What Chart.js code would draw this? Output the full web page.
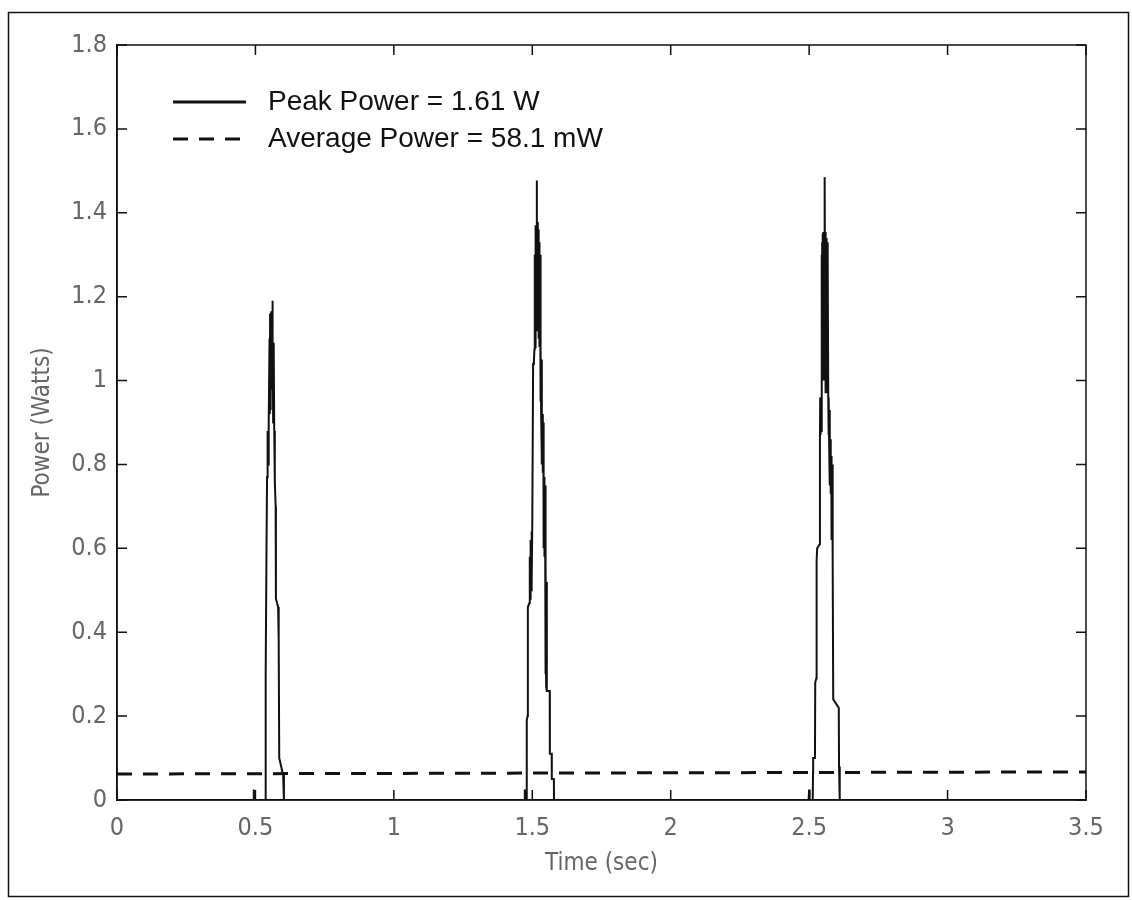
<!DOCTYPE html>
<html lang="en">
<head>
    <meta charset="UTF-8">
    <title>Peak and Average Power</title>
    <script src="https://cdn.jsdelivr.net/npm/chart.js"></script>
    <style>
        body { margin: 0; background: #fff; }
        canvas { display: block; }
    </style>
</head>
<body>
    <canvas id="powerChart" width="1132" height="900"></canvas>

    <script>
        // Power trace (time in sec, power in W)
        const pulse1Time = [0, 0.492, 0.494, 0.497, 0.535, 0.537, 0.540, 0.542, 0.543, 0.544, 0.545, 0.546, 0.547, 0.549, 0.551, 0.552, 0.553, 0.554, 0.555, 0.556, 0.557, 0.558, 0.559, 0.560, 0.561, 0.562, 0.563, 0.564, 0.566, 0.568, 0.570, 0.573, 0.574, 0.582, 0.584, 0.586, 0.600, 0.603];
        const pulse1Power = [0, 0, 0.025, 0, 0, 0.30, 0.60, 0.77, 0.88, 0.78, 0.88, 0.80, 0.88, 0.90, 1.10, 0.92, 1.16, 0.93, 1.14, 0.95, 1.165, 0.98, 1.12, 1.00, 1.19, 1.00, 1.10, 0.90, 1.09, 0.88, 0.76, 0.70, 0.48, 0.46, 0.38, 0.10, 0.06, 0];

        const pulse2Time = [1.471, 1.473, 1.475, 1.479, 1.480, 1.483, 1.484, 1.490, 1.491, 1.4925, 1.494, 1.4955, 1.497, 1.4985, 1.500, 1.502, 1.503, 1.506, 1.508, 1.509, 1.510, 1.511, 1.512, 1.513, 1.514, 1.516, 1.517, 1.519, 1.520, 1.522, 1.523, 1.525, 1.526, 1.528, 1.529, 1.531, 1.532, 1.534, 1.535, 1.537, 1.538, 1.540, 1.541, 1.543, 1.544, 1.546, 1.547, 1.549, 1.550, 1.552, 1.553, 1.556, 1.563, 1.5635, 1.570, 1.5705, 1.578, 1.5785];
        const pulse2Power = [0, 0.025, 0, 0, 0.19, 0.20, 0.46, 0.47, 0.58, 0.48, 0.62, 0.50, 0.64, 0.52, 0.66, 0.66, 1.04, 1.05, 1.075, 1.30, 1.08, 1.35, 1.10, 1.37, 1.12, 1.477, 1.15, 1.378, 1.12, 1.36, 1.10, 1.33, 1.08, 1.30, 0.95, 1.075, 0.92, 1.05, 0.80, 0.92, 0.78, 0.90, 0.60, 0.77, 0.58, 0.75, 0.30, 0.56, 0.27, 0.52, 0.26, 0.26, 0.26, 0.11, 0.11, 0.05, 0.05, 0];

        const pulse3Time = [2.498, 2.500, 2.502, 2.513, 2.514, 2.5145, 2.521, 2.522, 2.526, 2.527, 2.529, 2.538, 2.539, 2.540, 2.541, 2.542, 2.543, 2.545, 2.546, 2.547, 2.548, 2.549, 2.550, 2.551, 2.552, 2.554, 2.555, 2.557, 2.558, 2.559, 2.560, 2.562, 2.563, 2.565, 2.566, 2.568, 2.569, 2.570, 2.571, 2.572, 2.574, 2.575, 2.577, 2.578, 2.580, 2.581, 2.583, 2.584, 2.586, 2.587, 2.607, 2.608, 2.610, 2.611, 3.5];
        const pulse3Power = [0, 0.025, 0, 0, 0.065, 0.10, 0.10, 0.28, 0.29, 0.57, 0.60, 0.61, 0.86, 0.96, 0.87, 0.96, 0.88, 1.30, 0.97, 1.33, 1.00, 1.35, 1.02, 1.354, 1.05, 1.35, 1.00, 1.485, 1.10, 1.354, 0.97, 1.34, 0.98, 1.33, 0.97, 1.30, 0.96, 0.87, 0.96, 0.86, 0.93, 0.75, 0.86, 0.73, 0.82, 0.62, 0.80, 0.62, 0.57, 0.24, 0.22, 0.08, 0.08, 0, 0];

        // average power line
        const avgTime = [0, 3.5];
        const avgPower = [0.062, 0.067];

        const xTicks = [0, 0.5, 1, 1.5, 2, 2.5, 3, 3.5];
        const yTicks = [0, 0.2, 0.4, 0.6, 0.8, 1, 1.2, 1.4, 1.6, 1.8];

        const legendLabels = ['Peak Power = 1.61 W', 'Average Power = 58.1 mW'];

        function toPoints(times, values) {
            return times.map((t, i) => ({ x: t, y: values[i] }));
        }

        const peakData = []
            .concat(toPoints(pulse1Time, pulse1Power))
            .concat(toPoints(pulse2Time, pulse2Power))
            .concat(toPoints(pulse3Time, pulse3Power));

        const tickFont = { family: '"Liberation Sans Narrow", "DejaVu Sans Condensed", sans-serif', size: 25 };
        const titleFont = { family: '"Liberation Sans Narrow", "DejaVu Sans Condensed", sans-serif', size: 24 };

        function fmt(v) {
            return String(Number(v.toFixed(1)));
        }

        // box, inward tick marks, outer frame and legend
        const framePlugin = {
            id: 'frame',
            afterDraw(chart) {
                const ctx = chart.ctx;
                const a = chart.chartArea;
                const xs = chart.scales.x, ys = chart.scales.y;
                ctx.save();
                ctx.strokeStyle = '#111';
                ctx.lineWidth = 1.5;
                ctx.strokeRect(a.left, a.top, a.right - a.left, a.bottom - a.top);

                ctx.beginPath();
                xTicks.forEach(v => {
                    const px = xs.getPixelForValue(v);
                    ctx.moveTo(px, a.bottom); ctx.lineTo(px, a.bottom - 10);
                    ctx.moveTo(px, a.top); ctx.lineTo(px, a.top + 10);
                });
                yTicks.forEach(v => {
                    const py = ys.getPixelForValue(v);
                    ctx.moveTo(a.left, py); ctx.lineTo(a.left + 10, py);
                    ctx.moveTo(a.right, py); ctx.lineTo(a.right - 10, py);
                });
                ctx.stroke();

                // outer figure border
                ctx.lineWidth = 1.5;
                ctx.strokeRect(8.5, 12.5, 1120, 884);

                // legend
                ctx.font = '28px "Liberation Sans", Arial, sans-serif';
                ctx.textBaseline = 'middle';
                ctx.fillStyle = '#111';
                chart.data.datasets.forEach((ds, i) => {
                    const y = a.top + 57 + i * 37;
                    ctx.beginPath();
                    ctx.lineWidth = 3;
                    ctx.setLineDash(ds.borderDash || []);
                    ctx.moveTo(a.left + 56, y);
                    ctx.lineTo(a.left + 129, y);
                    ctx.stroke();
                    ctx.setLineDash([]);
                    ctx.fillText(ds.label, a.left + 151, y);
                });
                ctx.restore();
            }
        };

        new Chart(document.getElementById('powerChart'), {
            type: 'scatter',
            data: {
                datasets: [
                    {
                        label: legendLabels[0],
                        data: peakData,
                        showLine: true,
                        borderColor: '#111',
                        borderWidth: 2,
                        pointRadius: 0,
                        tension: 0
                    },
                    {
                        label: legendLabels[1],
                        data: toPoints(avgTime, avgPower),
                        showLine: true,
                        borderColor: '#111',
                        borderWidth: 3,
                        borderDash: [15, 11],
                        pointRadius: 0,
                        tension: 0
                    }
                ]
            },
            options: {
                responsive: false,
                animation: false,
                layout: { padding: { left: 0, top: 45, right: 46, bottom: 0 } },
                plugins: {
                    legend: { display: false },
                    tooltip: { enabled: false }
                },
                scales: {
                    x: {
                        type: 'linear',
                        min: 0,
                        max: 3.5,
                        afterFit(scale) { scale.height = 100; },
                        afterBuildTicks(scale) { scale.ticks = xTicks.map(v => ({ value: v })); },
                        grid: { display: false, drawTicks: false },
                        border: { color: '#111', width: 1.5 },
                        ticks: {
                            autoSkip: false,
                            maxRotation: 0,
                            padding: 13,
                            color: '#666',
                            font: tickFont,
                            callback: v => fmt(v)
                        },
                        title: {
                            display: true,
                            text: 'Time (sec)',
                            color: '#666',
                            font: titleFont,
                            padding: { top: 0, bottom: 22 }
                        }
                    },
                    y: {
                        type: 'linear',
                        min: 0,
                        max: 1.8,
                        afterFit(scale) { scale.width = 117; },
                        afterBuildTicks(scale) { scale.ticks = yTicks.map(v => ({ value: v })); },
                        grid: { display: false, drawTicks: false },
                        border: { color: '#111', width: 1.5 },
                        ticks: {
                            autoSkip: false,
                            padding: 10,
                            color: '#666',
                            font: tickFont,
                            callback: v => fmt(v)
                        },
                        title: {
                            display: true,
                            text: 'Power (Watts)',
                            color: '#666',
                            font: titleFont,
                            padding: { top: 28, bottom: 0 }
                        }
                    }
                }
            },
            plugins: [framePlugin]
        });
    </script>
</body>
</html>
